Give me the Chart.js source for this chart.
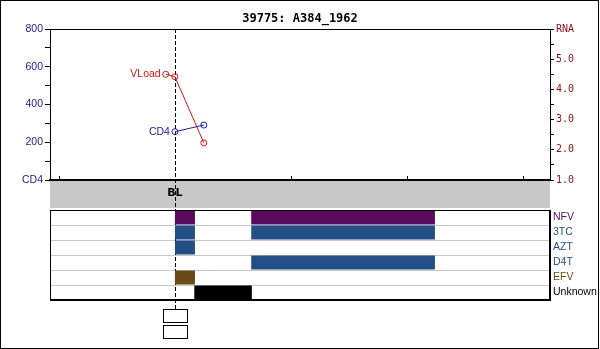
<!DOCTYPE html>
<html>
<head>
<meta charset="utf-8">
<script src="https://cdn.jsdelivr.net/npm/chart.js@4.4.0/dist/chart.umd.min.js"></script>
<style>
  body { margin: 0; background: #fff; }
  #page { position: relative; width: 600px; height: 349px; overflow: hidden; }
  #frame { position: absolute; left: 0; top: 0; width: 599px; height: 349px; box-sizing: border-box; border: 1px solid #000; pointer-events: none; }
  canvas { position: absolute; left: 0; }
  #labsChart { top: 0; }
  #drugChart { top: 199px; }
</style>
</head>
<body>
<div id="page">
  <canvas id="labsChart" width="600" height="209"></canvas>
  <canvas id="drugChart" width="600" height="150"></canvas>
  <div id="frame"></div>
</div>
<script>
// time axis, days from baseline
const dayMin = -393;
const dayMax = 1180;
const tickDays = [-365, 0, 365, 730, 1095];

// lab results
const cd4Days = [0, 91];
const cd4Counts = [256, 291];
const rnaDays = [-29, 0, 91];
const rnaLogs = [4.50, 4.42, 2.23];

// drug rows and treatment courses
const drugs = ['NFV', '3TC', 'AZT', 'D4T', 'EFV', 'Unknown'];
const drugColors = ['#5b0b5e', '#214f86', '#214f86', '#214f86', '#6b4a1a', '#000000'];
const courseDrug = ['NFV', '3TC', 'AZT', 'EFV', 'Unknown', 'NFV', '3TC', 'D4T'];
const courseStart = [0, 0, 0, 0, 61, 240, 240, 240];
const courseEnd = [63, 63, 63, 63, 242, 818, 818, 818];

const cd4Color = '#1c1c99';
const rnaColor = '#d01818';
const sansFont = { family: '"Liberation Sans", sans-serif', size: 10.5 };

function blPixel(chart) {
  return Math.round(chart.scales.x.getPixelForValue(0)) + 0.5;
}

const labsDecor = {
  id: 'labsDecor',
  beforeDraw(chart) {
    const { ctx, chartArea: a } = chart;
    ctx.save();
    ctx.fillStyle = '#c8c8c8';
    ctx.fillRect(a.left, a.bottom + 1, a.right - a.left, 27);
    ctx.restore();
  },
  beforeDatasetsDraw(chart) {
    const { ctx, chartArea: a, scales: { x } } = chart;
    ctx.save();
    ctx.strokeStyle = '#000';
    ctx.lineWidth = 1;
    ctx.beginPath();
    ctx.moveTo(a.left, a.top + 0.5);
    ctx.lineTo(a.right, a.top + 0.5);
    tickDays.forEach(d => {
      if (d === 0) return;
      const px = Math.round(x.getPixelForValue(d)) + 0.5;
      ctx.moveTo(px, a.bottom);
      ctx.lineTo(px, a.bottom - 4);
    });
    ctx.stroke();
    const bl = blPixel(chart);
    ctx.setLineDash([4, 2]);
    ctx.beginPath();
    ctx.moveTo(bl, a.top);
    ctx.lineTo(bl, chart.height);
    ctx.stroke();
    ctx.restore();
  },
  afterDatasetsDraw(chart) {
    const { ctx } = chart;
    ctx.save();
    ctx.font = '10.5px "Liberation Sans", sans-serif';
    ctx.textAlign = 'right';
    ctx.textBaseline = 'middle';
    chart.data.datasets.forEach((ds, i) => {
      const pt = chart.getDatasetMeta(i).data[0];
      ctx.fillStyle = ds.borderColor;
      ctx.fillText(ds.label, pt.x - 5, pt.y);
    });
    ctx.restore();
  }
};

new Chart(document.getElementById('labsChart'), {
  type: 'line',
  data: {
    datasets: [
      {
        label: 'VLoad',
        yAxisID: 'rna',
        data: rnaDays.map((d, i) => ({ x: d, y: rnaLogs[i] })),
        borderColor: rnaColor,
        borderWidth: 1,
        pointRadius: 3,
        pointBorderWidth: 1,
        pointBackgroundColor: 'rgba(0,0,0,0)',
        pointBorderColor: rnaColor
      },
      {
        label: 'CD4',
        yAxisID: 'cd4',
        data: cd4Days.map((d, i) => ({ x: d, y: cd4Counts[i] })),
        borderColor: cd4Color,
        borderWidth: 1,
        pointRadius: 3,
        pointBorderWidth: 1,
        pointBackgroundColor: 'rgba(0,0,0,0)',
        pointBorderColor: cd4Color
      }
    ]
  },
  options: {
    responsive: false,
    animation: false,
    layout: { padding: 0 },
    plugins: {
      legend: { display: false },
      tooltip: { enabled: false },
      title: {
        display: true,
        text: '39775: A384_1962',
        color: '#000',
        font: { family: '"DejaVu Sans Mono", monospace', size: 12, weight: 'bold', lineHeight: '14px' },
        padding: { top: 12, bottom: 3 }
      }
    },
    scales: {
      x: {
        type: 'linear',
        min: dayMin,
        max: dayMax,
        afterBuildTicks: s => { s.ticks = tickDays.map(v => ({ value: v })); },
        afterFit: s => { s.height = 29; },
        grid: { drawOnChartArea: false, drawTicks: false },
        border: { color: '#000', width: 2 },
        ticks: {
          autoSkip: false,
          maxRotation: 0,
          padding: 7,
          color: '#000',
          font: { family: '"DejaVu Sans", sans-serif', size: 11, weight: 'bold' },
          callback: v => (v === 0 ? 'BL' : '')
        }
      },
      cd4: {
        type: 'linear',
        position: 'left',
        min: 0,
        max: 800,
        afterFit: s => { s.width = 50; },
        grid: { drawOnChartArea: false, color: '#000', tickLength: 5 },
        border: { color: '#000' },
        ticks: {
          stepSize: 100,
          autoSkip: false,
          padding: 2,
          color: '#1c1c8c',
          font: sansFont,
          callback: v => (v === 0 ? 'CD4' : v % 200 === 0 ? String(v) : '')
        }
      },
      rna: {
        type: 'linear',
        position: 'right',
        min: 1,
        max: 6,
        afterFit: s => { s.width = 50; },
        grid: { drawOnChartArea: false, color: '#000', tickLength: 4 },
        border: { color: '#000' },
        ticks: {
          stepSize: 0.5,
          autoSkip: false,
          padding: 2,
          color: '#8b1010',
          font: { family: '"DejaVu Sans Mono", monospace', size: 10 },
          callback: v => (v === 6 ? 'RNA' : Number.isInteger(v) ? v.toFixed(1) : '')
        }
      }
    }
  },
  plugins: [labsDecor]
});

const drugDecor = {
  id: 'drugDecor',
  beforeDatasetsDraw(chart) {
    const { ctx, chartArea: a } = chart;
    const bl = blPixel(chart);
    ctx.save();
    ctx.strokeStyle = '#000';
    ctx.lineWidth = 1;
    ctx.setLineDash([4, 2]);
    ctx.beginPath();
    ctx.moveTo(bl, a.top - 1);
    ctx.lineTo(bl, a.bottom + 9);
    ctx.stroke();
    ctx.restore();
  },
  afterDraw(chart) {
    const { ctx, chartArea: a } = chart;
    const bl = blPixel(chart);
    ctx.save();
    ctx.strokeStyle = '#000';
    ctx.lineWidth = 1;
    ctx.strokeRect(a.left + 0.5, a.top + 0.5, a.right - a.left - 1, a.bottom - a.top - 1);
    ctx.lineWidth = 2;
    ctx.beginPath();
    ctx.moveTo(a.left, a.bottom);
    ctx.lineTo(a.right, a.bottom);
    ctx.stroke();
    // event markers under the baseline
    ctx.lineWidth = 1;
    ctx.strokeRect(bl - 12, a.bottom + 9.5, 24, 13);
    ctx.strokeRect(bl - 12, a.bottom + 25.5, 24, 13);
    ctx.restore();
  }
};

new Chart(document.getElementById('drugChart'), {
  type: 'bar',
  data: {
    labels: drugs,
    datasets: [{
      data: courseDrug.map((d, i) => ({ y: d, x: [courseStart[i], courseEnd[i]] })),
      backgroundColor: c => (c.raw ? drugColors[drugs.indexOf(c.raw.y)] : '#000'),
      borderWidth: 0,
      categoryPercentage: 1,
      barPercentage: 14 / 15
    }]
  },
  options: {
    indexAxis: 'y',
    responsive: false,
    animation: false,
    layout: { padding: { left: 50, top: 11, bottom: 49, right: 0 } },
    plugins: {
      legend: { display: false },
      tooltip: { enabled: false }
    },
    scales: {
      x: { type: 'linear', min: dayMin, max: dayMax, display: false },
      y: {
        position: 'right',
        afterFit: s => { s.width = 50; },
        grid: { color: '#c8c8c8', drawTicks: false, offset: true },
        border: { color: '#000' },
        ticks: {
          autoSkip: false,
          padding: 3,
          font: sansFont,
          color: c => drugColors[c.index]
        }
      }
    }
  },
  plugins: [drugDecor]
});
</script>
</body>
</html>
